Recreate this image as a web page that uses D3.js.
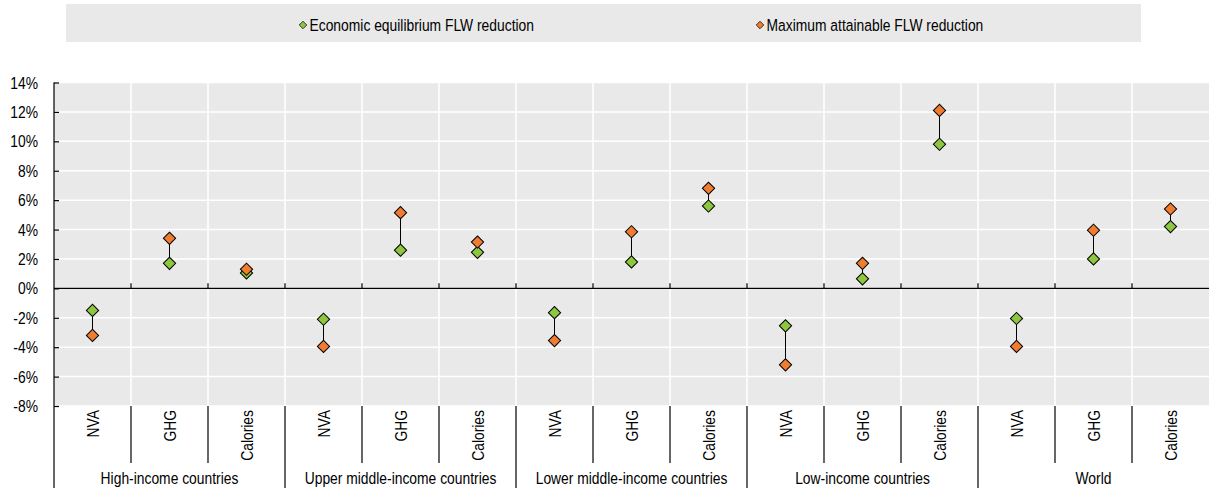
<!DOCTYPE html>
<html><head><meta charset="utf-8">
<script src="https://cdn.jsdelivr.net/npm/d3@7"></script>
<style>body{margin:0;background:#fff;}</style>
</head><body>
<svg id="c" width="1209" height="488"></svg>
<script>
const groups = ["High-income countries","Upper middle-income countries","Lower middle-income countries","Low-income countries","World"];
const measures = ["NVA","GHG","Calories"];
const economic = [-1.5,1.7,1.05, -2.1,2.6,2.45, -1.65,1.8,5.6, -2.55,0.65,9.8, -2.05,2.0,4.2];
const maximum  = [-3.2,3.4,1.3, -3.95,5.15,3.15, -3.55,3.85,6.8, -5.2,1.7,12.1, -3.95,3.95,5.4];
const yTicks = [-8,-6,-4,-2,0,2,4,6,8,10,12,14];
const seriesNames = ["Economic equilibrium FLW reduction","Maximum attainable FLW reduction"];
const colors = ["#8dc63f","#f07d2f"];

const svg = d3.select("#c");
const W=1209, H=488;
const m = {left:54, right:1209, top:82.5, bottom:406};
const FS = 17;

// font detection: narrow font if really installed, else horizontally scaled Liberation Sans
const probe = svg.append("g");
const tN = probe.append("text").attr("font-family","'Liberation Sans Narrow', monospace").attr("font-size",40).text("Calories equilibrium");
const tM = probe.append("text").attr("font-family","monospace").attr("font-size",40).text("Calories equilibrium");
const narrowOK = Math.abs(tN.node().getComputedTextLength()-tM.node().getComputedTextLength())>5;
probe.remove();
const FAM = narrowOK ? "'Liberation Sans Narrow', sans-serif" : "'Liberation Sans', Arial, sans-serif";
const SX = narrowOK ? 1 : 0.815;
function label(parent, x, y, txt, anchor, rot){
  const g = parent.append("g").attr("transform",`translate(${x},${y})${rot?` rotate(${rot})`:""} scale(${SX},1)`);
  return g.append("text").attr("text-anchor",anchor||"start").attr("font-family",FAM).attr("font-size",FS).attr("fill","#000").text(txt);
}

const cats = [];
groups.forEach(g=>measures.forEach(ms=>cats.push(g+"|"+ms)));
const x = d3.scaleBand().domain(cats).range([m.left,m.right]).padding(0);
const y = d3.scaleLinear().domain([-8,14]).range([m.bottom,m.top]);

// legend
svg.append("rect").attr("x",66).attr("y",4).attr("width",1075).attr("height",38).attr("fill","#e9e9e9");
const legX=[303,760];
seriesNames.forEach((n,i)=>{
  svg.append("path").attr("d",d3.symbol(d3.symbolSquare,28)).attr("transform",`translate(${legX[i]},25) rotate(45)`)
   .attr("fill",colors[i]).attr("stroke","#000").attr("stroke-width",0.7);
  label(svg, legX[i]+6.5, 31, n, "start");
});

// plot background
svg.append("rect").attr("x",m.left).attr("y",m.top).attr("width",m.right-m.left).attr("height",m.bottom-m.top).attr("fill","#e9e9e9");
svg.append("g").selectAll("line").data(yTicks).join("line")
  .attr("x1",m.left).attr("x2",m.right).attr("y1",d=>y(d)).attr("y2",d=>y(d))
  .attr("stroke","#fff").attr("stroke-width",1.5);
svg.append("g").selectAll("line").data(cats.slice(1)).join("line")
  .attr("x1",d=>x(d)).attr("x2",d=>x(d)).attr("y1",m.top).attr("y2",m.bottom)
  .attr("stroke","#fff").attr("stroke-width",1.5);

// y axis
const yAxis = d3.axisLeft(y).tickValues(yTicks).tickFormat(d=>d+"%").tickSize(-5).tickPadding(16);
const ya = svg.append("g").attr("transform",`translate(${m.left},0)`).call(yAxis);
ya.select(".domain").remove();
ya.selectAll("line").attr("stroke","#000").attr("stroke-width",1.2);
ya.selectAll("text").remove();
yTicks.forEach(v=>{ label(svg, m.left-16, y(v)+6, v+"%", "end"); });
svg.append("line").attr("x1",m.left).attr("x2",m.left).attr("y1",m.top).attr("y2",H).attr("stroke","#000").attr("stroke-width",1.2);

// zero line with ticks
svg.append("line").attr("x1",m.left).attr("x2",m.right).attr("y1",y(0)).attr("y2",y(0)).attr("stroke","#000").attr("stroke-width",1.2);
svg.append("g").selectAll("line").data(cats.slice(1)).join("line")
  .attr("x1",d=>x(d)).attr("x2",d=>x(d)).attr("y1",y(0)-5).attr("y2",y(0))
  .attr("stroke","#000").attr("stroke-width",1.2);

// category labels
cats.forEach(d=>{ label(svg, x(d)+x.bandwidth()/2+6.5, m.bottom+4, d.split("|")[1], "end", -90); });
// separators
svg.append("g").selectAll("line").data(cats.slice(1)).join("line")
  .attr("x1",d=>x(d)).attr("x2",d=>x(d)).attr("y1",m.bottom)
  .attr("y2",(d,i)=>((i+1)%3===0)?H:463)
  .attr("stroke","#000").attr("stroke-width",1.2);
// group labels
groups.forEach((g,i)=>{ label(svg, x(cats[i*3])+x.bandwidth()*1.5, 484, g, "middle"); });

// connectors
svg.append("g").selectAll("line").data(cats).join("line")
  .attr("x1",d=>x(d)+x.bandwidth()/2).attr("x2",d=>x(d)+x.bandwidth()/2)
  .attr("y1",(d,i)=>y(economic[i])).attr("y2",(d,i)=>y(maximum[i]))
  .attr("stroke","#000").attr("stroke-width",1);
// markers
[economic,maximum].forEach((vals,s)=>{
  svg.append("g").selectAll("path").data(cats).join("path")
    .attr("d",d3.symbol(d3.symbolSquare,75))
    .attr("transform",(d,i)=>`translate(${x(d)+x.bandwidth()/2},${y(vals[i])}) rotate(45)`)
    .attr("fill",colors[s]).attr("stroke","#000").attr("stroke-width",1);
});
</script>
</body></html>
